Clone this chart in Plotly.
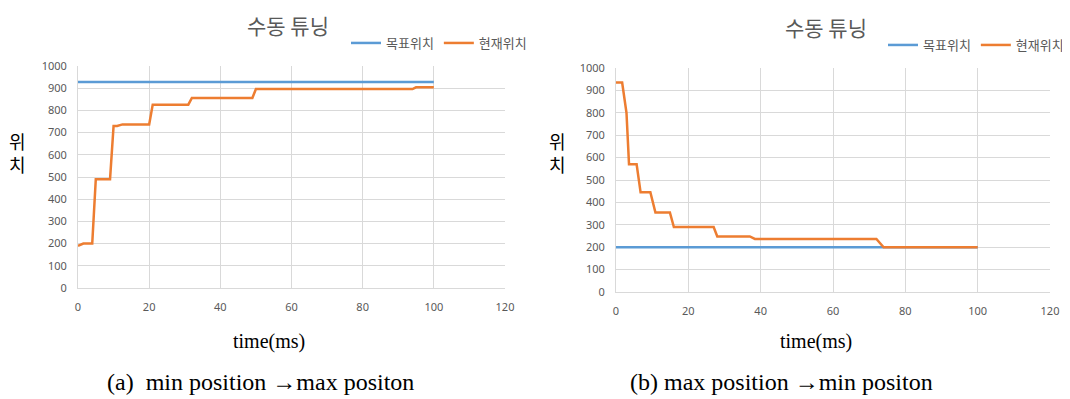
import plotly.graph_objects as go

# ---- data ----
series_names = ["목표위치", "현재위치"]

# (a) min position -> max position
a_target_x = [0, 100]
a_target_y = [928, 928]
a_current_x = [0, 1.5, 4, 5, 9, 10, 11, 12.5, 20, 21, 31, 32, 49, 50, 94, 95, 100]
a_current_y = [190, 200, 200, 490, 490, 730, 730, 737, 737, 826, 826, 856, 856, 896, 896, 904, 904]

# (b) max position -> min position
b_target_x = [0, 100]
b_target_y = [200, 200]
b_current_x = [0, 1.7, 2.9, 3.6, 5.7, 6.8, 9.5, 10.9, 14.9, 16, 27, 28, 37, 38.4, 72, 74, 100]
b_current_y = [935, 935, 800, 570, 570, 445, 445, 355, 355, 290, 290, 248, 248, 237, 237, 200, 200]

chart_title = "수동 튜닝"
x_title = "time(ms)"
y_title = "위<br>치"
captions = ["(a)  min position →max positon", "(b) max position →min positon"]

BLUE = "#5B9BD5"
ORANGE = "#ED7D31"
GRID = "#D9D9D9"
GRAY = "#595959"
PAGE_W, PAGE_H = 1070, 399
OFF = 8  # default body margin of the html page
W, H = PAGE_W - OFF, PAGE_H - OFF


def px(xp):
    return (xp - OFF) / W


def py(yp):
    return 1 - (yp - OFF) / H


fig = go.Figure()
fig.add_trace(go.Scatter(x=a_target_x, y=a_target_y, mode="lines", name=series_names[0],
                         line=dict(color=BLUE, width=2.5), xaxis="x", yaxis="y", legend="legend"))
fig.add_trace(go.Scatter(x=a_current_x, y=a_current_y, mode="lines", name=series_names[1],
                         line=dict(color=ORANGE, width=2.5), xaxis="x", yaxis="y", legend="legend"))
fig.add_trace(go.Scatter(x=b_target_x, y=b_target_y, mode="lines", name=series_names[0],
                         line=dict(color=BLUE, width=2.5), xaxis="x2", yaxis="y2", legend="legend2"))
fig.add_trace(go.Scatter(x=b_current_x, y=b_current_y, mode="lines", name=series_names[1],
                         line=dict(color=ORANGE, width=2.5), xaxis="x2", yaxis="y2", legend="legend2"))

tickfont = dict(family="Noto Sans", size=11, color=GRAY)


def xax(domain, anchor):
    return dict(domain=domain, anchor=anchor, range=[0, 120], tick0=0, dtick=20,
                showgrid=True, gridcolor=GRID, gridwidth=1, zeroline=False,
                showline=True, linecolor=GRID, linewidth=1, tickfont=tickfont,
                ticks="", ticklabelstandoff=9, fixedrange=True, automargin=False)


def yax(domain, anchor):
    return dict(domain=domain, anchor=anchor, range=[0, 1000], tick0=0, dtick=100,
                showgrid=True, gridcolor=GRID, gridwidth=1, zeroline=False,
                showline=True, linecolor=GRID, linewidth=1, tickfont=tickfont,
                ticks="", ticklabelstandoff=8, fixedrange=True, automargin=False)


legfont = dict(family="Noto Sans CJK KR", size=13, color=GRAY)

fig.update_layout(
    width=W, height=H,
    margin=dict(l=0, r=0, t=0, b=0, autoexpand=False),
    paper_bgcolor="white", plot_bgcolor="white",
    xaxis=xax([px(78), px(505)], "y"),
    yaxis=yax([py(288), py(66)], "x"),
    xaxis2=xax([px(616), px(1050)], "y2"),
    yaxis2=yax([py(292), py(68)], "x2"),
    legend=dict(orientation="h", x=px(346), y=py(43), xanchor="left", yanchor="middle",
                font=legfont, itemwidth=30, bgcolor="rgba(0,0,0,0)", tracegroupgap=0),
    legend2=dict(orientation="h", x=px(883), y=py(45), xanchor="left", yanchor="middle",
                 font=legfont, itemwidth=30, bgcolor="rgba(0,0,0,0)", tracegroupgap=0),
    showlegend=True,
)

ann = []
# chart titles
for cx, cy in [(288, 25), (826, 27)]:
    ann.append(dict(text=chart_title, x=px(cx), y=py(cy), xref="paper", yref="paper",
                    showarrow=False, xanchor="center", yanchor="middle",
                    font=dict(family="Noto Sans CJK KR", size=21, color=GRAY)))
# y titles
for cx, cy in [(17, 152), (557, 152)]:
    ann.append(dict(text=y_title, x=px(cx), y=py(cy), xref="paper", yref="paper",
                    showarrow=False, xanchor="center", yanchor="middle",
                    font=dict(family="Noto Sans CJK KR", size=18, color="black")))
# x titles
for cx, cy in [(269, 341), (816, 341)]:
    ann.append(dict(text=x_title, x=px(cx), y=py(cy), xref="paper", yref="paper",
                    showarrow=False, xanchor="center", yanchor="middle",
                    font=dict(family="Liberation Serif", size=20, color="black")))
# captions
for txt, cx in zip(captions, [105, 628]):
    ann.append(dict(text=txt, x=px(cx), y=py(382), xref="paper", yref="paper",
                    showarrow=False, xanchor="left", yanchor="middle",
                    font=dict(family="Liberation Serif", size=24, color="black")))
fig.update_layout(annotations=ann)

fig.write_html("out.html")
